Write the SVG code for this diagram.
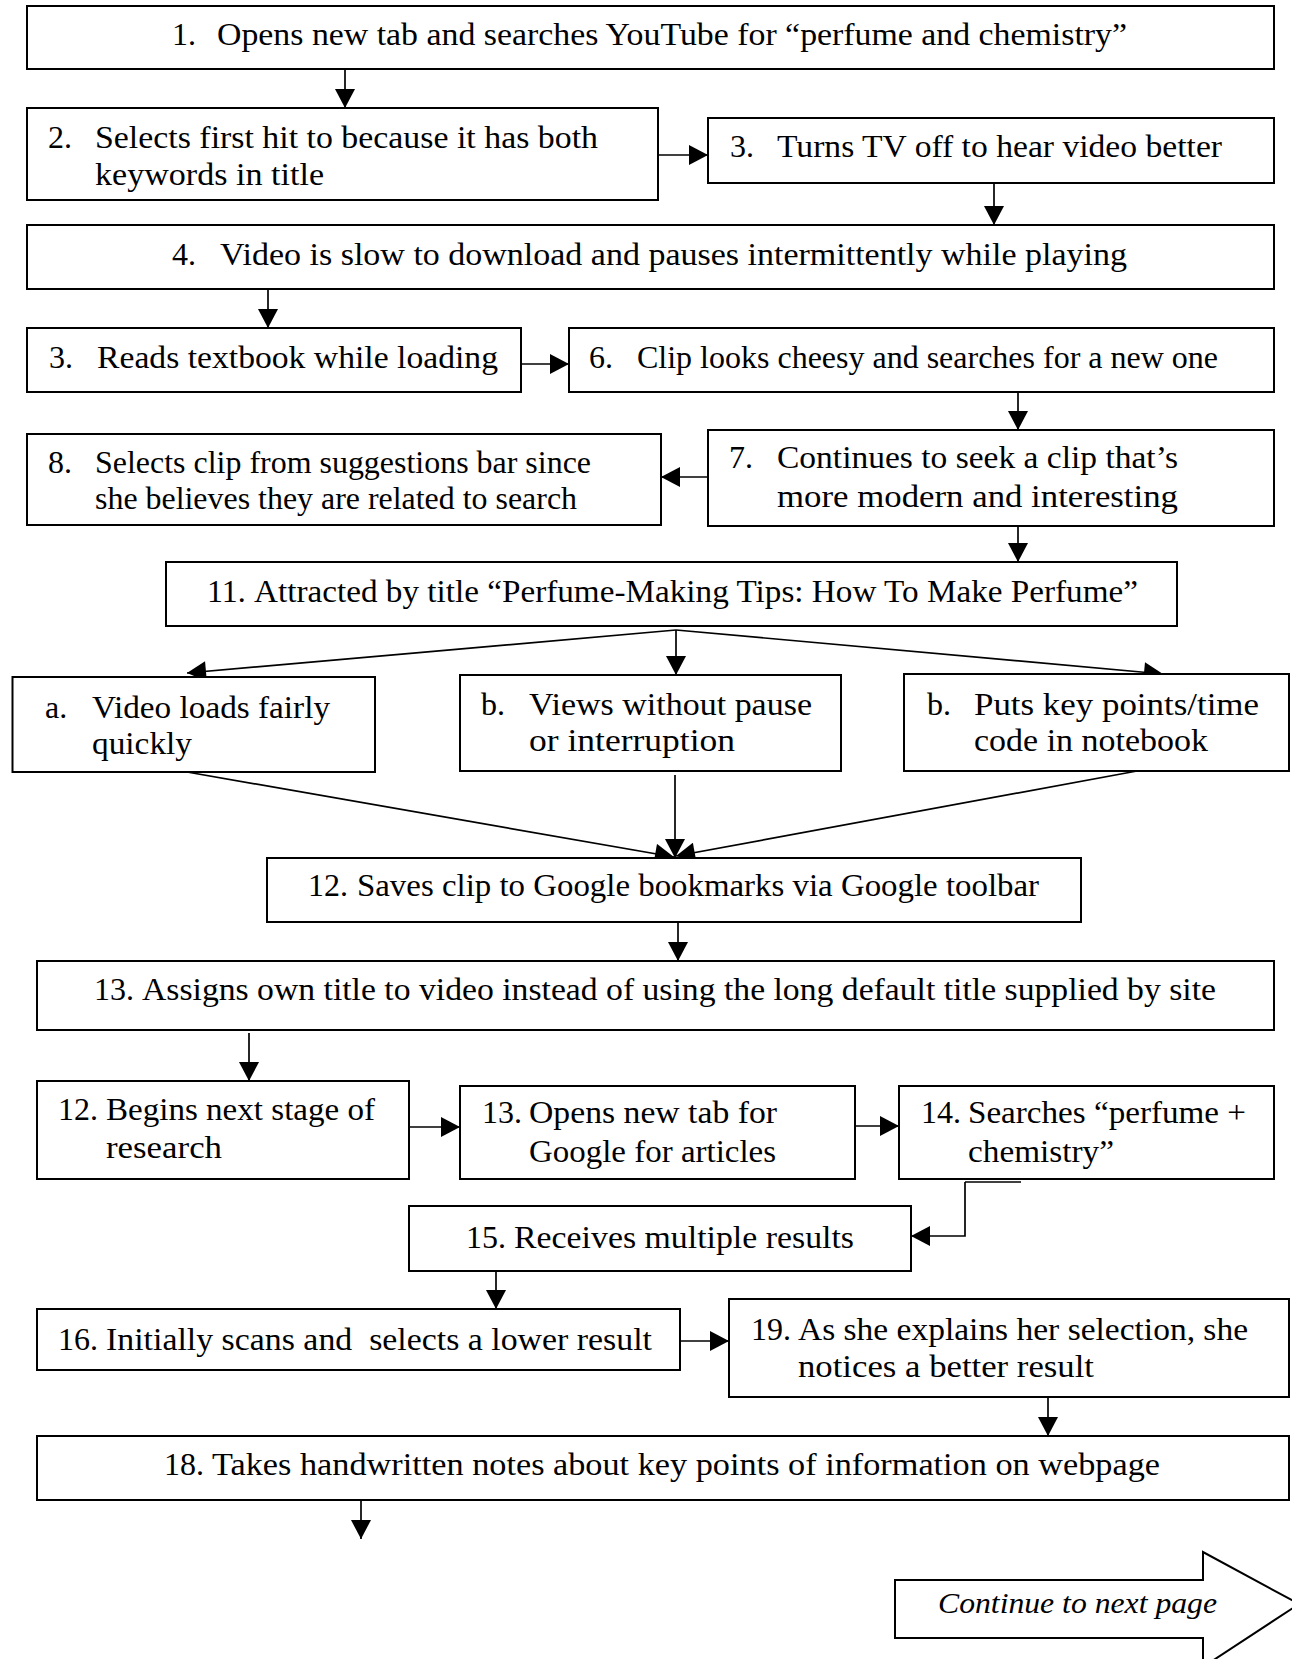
<svg xmlns="http://www.w3.org/2000/svg" width="1292" height="1659" viewBox="0 0 1292 1659">
<style>
.box{fill:#fff;stroke:#000;stroke-width:2}
.t{font-family:"Liberation Serif","Times New Roman",serif;font-size:32px;fill:#000}
.it{font-family:"Liberation Serif","Times New Roman",serif;font-size:30px;font-style:italic;fill:#000}
.ln{stroke:#000;stroke-width:1.7;fill:none}
.ar{stroke:#000;stroke-width:1.7;fill:none;marker-end:url(#ah)}
</style>
<defs>
<marker id="ah" markerUnits="userSpaceOnUse" markerWidth="20" markerHeight="20" viewBox="0 0 19 20" refX="19" refY="10" orient="auto">
<path d="M0,0 L19,10 L0,20 z" fill="#000"/>
</marker>
</defs>
<rect width="1292" height="1659" fill="#fff"/>

<g id="connectors">
<line class="ar" x1="345" y1="69" x2="345" y2="108"/>
<line class="ar" x1="658" y1="155" x2="708" y2="155"/>
<line class="ar" x1="994" y1="183" x2="994" y2="225"/>
<line class="ar" x1="268" y1="289" x2="268" y2="328"/>
<line class="ar" x1="521" y1="364" x2="569" y2="364"/>
<line class="ar" x1="1018" y1="392" x2="1018" y2="430"/>
<line class="ar" x1="708" y1="477" x2="661" y2="477"/>
<line class="ar" x1="1018" y1="526" x2="1018" y2="562"/>
<line class="ar" x1="676" y1="630" x2="187" y2="673"/>
<line class="ar" x1="676" y1="630" x2="676" y2="675"/>
<line class="ar" x1="676" y1="630" x2="1163" y2="674"/>
<line class="ar" x1="187" y1="772" x2="674" y2="857"/>
<line class="ar" x1="675" y1="775" x2="675" y2="858"/>
<line class="ar" x1="1137" y1="771" x2="676" y2="856"/>
<line class="ar" x1="678" y1="922" x2="678" y2="961"/>
<line class="ar" x1="249" y1="1033" x2="249" y2="1081"/>
<line class="ar" x1="409" y1="1127" x2="460" y2="1127"/>
<line class="ar" x1="855" y1="1126" x2="899" y2="1126"/>
<line class="ln" x1="965" y1="1182" x2="1021" y2="1182"/>
<path class="ar" d="M965,1182 L965,1236 L911,1236"/>
<line class="ar" x1="496" y1="1271" x2="496" y2="1309"/>
<line class="ar" x1="680" y1="1341" x2="729" y2="1341"/>
<line class="ar" x1="1048" y1="1397" x2="1048" y2="1436"/>
<line class="ar" x1="361" y1="1500" x2="361" y2="1539"/>
</g>

<g id="n1"><rect class="box" x="27" y="6" width="1247" height="63"/>
<text class="t" x="172" y="45">1.</text>
<text class="t" x="217" y="45" textLength="910" lengthAdjust="spacingAndGlyphs">Opens new tab and searches YouTube for “perfume and chemistry”</text></g>

<g id="n2"><rect class="box" x="27" y="108" width="631" height="92"/>
<text class="t" x="48" y="148">2.</text>
<text class="t" x="95" y="148" textLength="503" lengthAdjust="spacingAndGlyphs">Selects first hit to because it has both</text>
<text class="t" x="95" y="185" textLength="229" lengthAdjust="spacingAndGlyphs">keywords in title</text></g>

<g id="n3"><rect class="box" x="708" y="118" width="566" height="65"/>
<text class="t" x="730" y="157">3.</text>
<text class="t" x="777" y="157" textLength="445" lengthAdjust="spacingAndGlyphs">Turns TV off to hear video better</text></g>

<g id="n4"><rect class="box" x="27" y="225" width="1247" height="64"/>
<text class="t" x="172" y="265">4.</text>
<text class="t" x="220" y="265" textLength="907" lengthAdjust="spacingAndGlyphs">Video is slow to download and pauses intermittently while playing</text></g>

<g id="n5"><rect class="box" x="27" y="328" width="494" height="64"/>
<text class="t" x="49" y="368">3.</text>
<text class="t" x="97" y="368" textLength="401" lengthAdjust="spacingAndGlyphs">Reads textbook while loading</text></g>

<g id="n6"><rect class="box" x="569" y="328" width="705" height="64"/>
<text class="t" x="589" y="368">6.</text>
<text class="t" x="637" y="368" textLength="581" lengthAdjust="spacingAndGlyphs">Clip looks cheesy and searches for a new one</text></g>

<g id="n7"><rect class="box" x="708" y="430" width="566" height="96"/>
<text class="t" x="729" y="468">7.</text>
<text class="t" x="777" y="468" textLength="401" lengthAdjust="spacingAndGlyphs">Continues to seek a clip that’s</text>
<text class="t" x="777" y="507" textLength="401" lengthAdjust="spacingAndGlyphs">more modern and interesting</text></g>

<g id="n8"><rect class="box" x="27" y="434" width="634" height="91"/>
<text class="t" x="48" y="473">8.</text>
<text class="t" x="95" y="473" textLength="496" lengthAdjust="spacingAndGlyphs">Selects clip from suggestions bar since</text>
<text class="t" x="95" y="509" textLength="482" lengthAdjust="spacingAndGlyphs">she believes they are related to search</text></g>

<g id="n11"><rect class="box" x="166" y="562" width="1011" height="64"/>
<text class="t" x="207" y="602">11.</text>
<text class="t" x="254" y="602" textLength="884" lengthAdjust="spacingAndGlyphs">Attracted by title “Perfume-Making Tips: How To Make Perfume”</text></g>

<g id="na"><rect class="box" x="12.5" y="677" width="362.5" height="95"/>
<text class="t" x="45" y="718">a.</text>
<text class="t" x="92" y="718" textLength="238" lengthAdjust="spacingAndGlyphs">Video loads fairly</text>
<text class="t" x="92" y="754" textLength="100" lengthAdjust="spacingAndGlyphs">quickly</text></g>

<g id="nb"><rect class="box" x="460" y="675" width="381" height="96"/>
<text class="t" x="481" y="715">b.</text>
<text class="t" x="529" y="715" textLength="283" lengthAdjust="spacingAndGlyphs">Views without pause</text>
<text class="t" x="529" y="751" textLength="206" lengthAdjust="spacingAndGlyphs">or interruption</text></g>

<g id="nc"><rect class="box" x="904" y="674" width="385" height="97"/>
<text class="t" x="927" y="715">b.</text>
<text class="t" x="974" y="715" textLength="285" lengthAdjust="spacingAndGlyphs">Puts key points/time</text>
<text class="t" x="974" y="751" textLength="234" lengthAdjust="spacingAndGlyphs">code in notebook</text></g>

<g id="n12"><rect class="box" x="267" y="858" width="814" height="64"/>
<text class="t" x="308" y="896">12.</text>
<text class="t" x="357" y="896" textLength="682" lengthAdjust="spacingAndGlyphs">Saves clip to Google bookmarks via Google toolbar</text></g>

<g id="n13"><rect class="box" x="37" y="961" width="1237" height="69"/>
<text class="t" x="94" y="1000">13.</text>
<text class="t" x="142" y="1000" textLength="1074" lengthAdjust="spacingAndGlyphs">Assigns own title to video instead of using the long default title supplied by site</text></g>

<g id="n12b"><rect class="box" x="37" y="1081" width="372" height="98"/>
<text class="t" x="58" y="1120">12.</text>
<text class="t" x="106" y="1120" textLength="269" lengthAdjust="spacingAndGlyphs">Begins next stage of</text>
<text class="t" x="106" y="1158" textLength="116" lengthAdjust="spacingAndGlyphs">research</text></g>

<g id="n13b"><rect class="box" x="460" y="1086" width="395" height="93"/>
<text class="t" x="482" y="1123">13.</text>
<text class="t" x="529" y="1123" textLength="248" lengthAdjust="spacingAndGlyphs">Opens new tab for</text>
<text class="t" x="529" y="1162" textLength="247" lengthAdjust="spacingAndGlyphs">Google for articles</text></g>

<g id="n14"><rect class="box" x="899" y="1086" width="375" height="93"/>
<text class="t" x="921" y="1123">14.</text>
<text class="t" x="968" y="1123" textLength="278" lengthAdjust="spacingAndGlyphs">Searches “perfume +</text>
<text class="t" x="968" y="1162" textLength="146" lengthAdjust="spacingAndGlyphs">chemistry”</text></g>

<g id="n15"><rect class="box" x="409" y="1206" width="502" height="65"/>
<text class="t" x="466" y="1248">15.</text>
<text class="t" x="514" y="1248" textLength="340" lengthAdjust="spacingAndGlyphs">Receives multiple results</text></g>

<g id="n16"><rect class="box" x="37" y="1309" width="643" height="61"/>
<text class="t" x="58" y="1350">16.</text>
<text class="t" x="106" y="1350" textLength="546" lengthAdjust="spacingAndGlyphs" xml:space="preserve">Initially scans and  selects a lower result</text></g>

<g id="n19"><rect class="box" x="729" y="1299" width="560" height="98"/>
<text class="t" x="751" y="1340">19.</text>
<text class="t" x="798" y="1340" textLength="450" lengthAdjust="spacingAndGlyphs">As she explains her selection, she</text>
<text class="t" x="798" y="1377" textLength="296" lengthAdjust="spacingAndGlyphs">notices a better result</text></g>

<g id="n18"><rect class="box" x="37" y="1436" width="1252" height="64"/>
<text class="t" x="164" y="1475">18.</text>
<text class="t" x="212" y="1475" textLength="948" lengthAdjust="spacingAndGlyphs">Takes handwritten notes about key points of information on webpage</text></g>

<g id="continue"><polygon class="box" points="895,1580 1203,1580 1203,1552 1299,1604 1203,1667 1203,1638 895,1638"/>
<text class="it" x="938" y="1613" textLength="279" lengthAdjust="spacingAndGlyphs">Continue to next page</text></g>
</svg>
